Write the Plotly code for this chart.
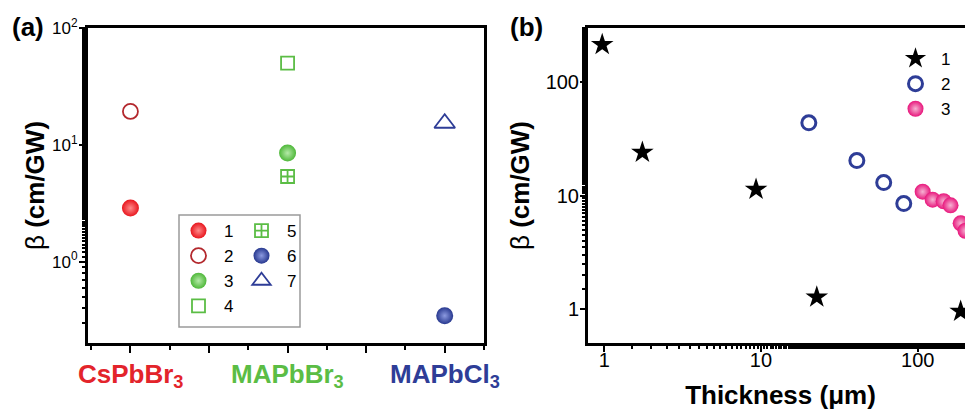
import plotly.graph_objects as go

# ---------------- data ----------------
categories = ["CsPbBr<sub>3</sub>", "MAPbBr<sub>3</sub>", "MAPbCl<sub>3</sub>"]
cat_pos = [1, 2, 3]
cat_colors = ["#e3242b", "#5bbd45", "#2e3d97"]

a_names = ["1", "2", "3", "4", "5", "6", "7"]
a_cat = [1, 1, 2, 2, 2, 3, 3]
a_beta = [2.87, 19.3, 8.5, 50, 5.35, 0.344, 15.3]

a_yticks = [1, 10, 100]
a_yticktext = ["10<sup>0</sup>", "10<sup>1</sup>", "10<sup>2</sup>"]

b1_x = [0.97, 1.75, 9.3, 22.7, 188]
b1_y = [212, 23.9, 11.3, 1.28, 0.96]
b2_x = [20.2, 40.9, 60.7, 81.5]
b2_y = [43.5, 20.3, 13.0, 8.5]
b3_x = [107.6, 124.6, 146.5, 162, 188, 202]
b3_y = [10.8, 9.2, 8.9, 8.2, 5.7, 4.9]
b_ticks = [1, 10, 100]
b_ticktext = ["1", "10", "100"]

FONT = "Arial, Liberation Sans, sans-serif"
OFF = 8                      # page body margin
W, H = 973 - OFF, 417 - OFF

fig = go.Figure()

# ---------------- panel (a) ----------------
a_styles = [
    dict(symbol="circle", color="#e8161e", size=17, gradient=dict(type="radial", color="#ff8a8a"), line=dict(width=0)),
    dict(symbol="circle-open", color="#b3282d", size=15, line=dict(width=1.8)),
    dict(symbol="circle", color="#4fb83a", size=17, gradient=dict(type="radial", color="#b5eaa8"), line=dict(width=0)),
    dict(symbol="square-open", color="#5bbd45", size=13, line=dict(width=1.8)),
    dict(symbol="square-cross-open", color="#5bbd45", size=13, line=dict(width=1.8)),
    dict(symbol="circle", color="#27388f", size=17, gradient=dict(type="radial", color="#8c9ae0"), line=dict(width=0)),
    dict(symbol="triangle-up-open", color="#2e3d97", size=18, line=dict(width=1.8)),
]
a_legend = ["legend", "legend", "legend", "legend", "legend2", "legend2", "legend2"]
for i in range(7):
    fig.add_trace(go.Scatter(
        x=[a_cat[i]], y=[a_beta[i]], mode="markers", name=a_names[i],
        marker=a_styles[i], xaxis="x", yaxis="y", legend=a_legend[i],
    ))

# ---------------- panel (b) ----------------
fig.add_trace(go.Scatter(x=b1_x, y=b1_y, mode="markers", name="1",
                         marker=dict(symbol="star", color="black", size=17, line=dict(width=0)),
                         xaxis="x2", yaxis="y2", legend="legend3"))
fig.add_trace(go.Scatter(x=b2_x, y=b2_y, mode="markers", name="2",
                         marker=dict(symbol="circle-open", color="#2e3d97", size=14, line=dict(width=3)),
                         xaxis="x2", yaxis="y2", legend="legend3"))
fig.add_trace(go.Scatter(x=b3_x, y=b3_y, mode="markers", name="3",
                         marker=dict(symbol="circle", color="#e8167c", size=16,
                                     gradient=dict(type="radial", color="#f6b3d3"), line=dict(width=0)),
                         xaxis="x2", yaxis="y2", legend="legend3"))

def px(x):
    return (x - OFF) / W

def py(y):
    return 1 - (y - OFF) / H

ydom = [py(343), py(28)]
minor_log = dict(ticks="outside", ticklen=3, tickwidth=1.5, tickcolor="black", showgrid=False)

def base_axis(**kw):
    d = dict(showline=True, linecolor="black", linewidth=3, mirror=True, automargin=False,
             ticks="outside", tickcolor="black", tickwidth=2, showgrid=False, zeroline=False,
             tickfont=dict(family=FONT, size=17, color="black"))
    d.update(kw)
    return d

fig.update_layout(
    width=W, height=H, margin=dict(l=0, r=0, t=0, b=0, autoexpand=False),
    paper_bgcolor="white", plot_bgcolor="white",
    font=dict(family=FONT, color="black"),
    xaxis=base_axis(domain=[px(88), px(484)], range=[0.73, 3.25], tickvals=[1, 1.5, 2, 2.5, 3],
                    showticklabels=False, ticklen=7,
                    minor=dict(tickvals=[0.75, 1.25, 1.75, 2.25, 2.75, 3.25], ticks="outside", ticklen=4,
                               tickwidth=2, tickcolor="black")),
    yaxis=base_axis(domain=ydom, type="log", range=[-0.697, 2], tickvals=a_yticks, ticktext=a_yticktext,
                    ticklen=6, minor=minor_log, ticklabelstandoff=-2,
                    title=dict(text="β <b>(cm/GW)</b>", font=dict(family=FONT, size=26), standoff=0)),
    xaxis2=base_axis(domain=[px(588), 1], type="log", range=[-0.104, 2.353], tickvals=b_ticks,
                     ticktext=b_ticktext, ticklen=6, anchor="y2", minor=minor_log, ticklabelstandoff=-9,
                     tickfont=dict(family=FONT, size=20, color="black"),
                     title=dict(text="<b>Thickness (μm)</b>", font=dict(family=FONT, size=26), standoff=16)),
    yaxis2=base_axis(domain=ydom, type="log", range=[-0.296, 2.472], tickvals=b_ticks,
                     ticktext=b_ticktext, ticklen=5, anchor="x2", minor=minor_log, mirror=False,
                     ticklabelstandoff=-3,
                     tickfont=dict(family=FONT, size=20, color="black"),
                     title=dict(text="β <b>(cm/GW)</b>", font=dict(family=FONT, size=26), standoff=9)),
    legend=dict(x=px(173), y=py(213), xanchor="left", yanchor="top", bgcolor="rgba(0,0,0,0)",
                font=dict(family=FONT, size=17), itemwidth=41, tracegroupgap=0),
    legend2=dict(x=px(236), y=py(213), xanchor="left", yanchor="top", bgcolor="rgba(0,0,0,0)",
                 font=dict(family=FONT, size=17), itemwidth=41, tracegroupgap=0),
    legend3=dict(x=px(890), y=py(41), xanchor="left", yanchor="top", bgcolor="rgba(0,0,0,0)",
                 font=dict(family=FONT, size=17), itemwidth=41, tracegroupgap=0),
    showlegend=True,
)

# legend box of panel (a)
fig.add_shape(type="rect", xref="paper", yref="paper", x0=px(179), x1=px(300), y0=py(327), y1=py(215),
              line=dict(color="#9a9a9a", width=1.5), fillcolor="rgba(0,0,0,0)", layer="below")

# category labels
for c, p, col in zip(categories, cat_pos, cat_colors):
    fig.add_annotation(x=p, y=py(375), xref="x", yref="paper", text="<b>" + c + "</b>",
                       showarrow=False, font=dict(family=FONT, size=26, color=col),
                       xanchor="center", yanchor="middle")

# panel labels
fig.add_annotation(x=px(10), y=py(27), xref="paper", yref="paper", text="<b>(a)</b>", showarrow=False,
                   font=dict(family=FONT, size=26), xanchor="left", yanchor="middle")
fig.add_annotation(x=px(508), y=py(27), xref="paper", yref="paper", text="<b>(b)</b>", showarrow=False,
                   font=dict(family=FONT, size=26), xanchor="left", yanchor="middle")

fig.write_html("out.html")
